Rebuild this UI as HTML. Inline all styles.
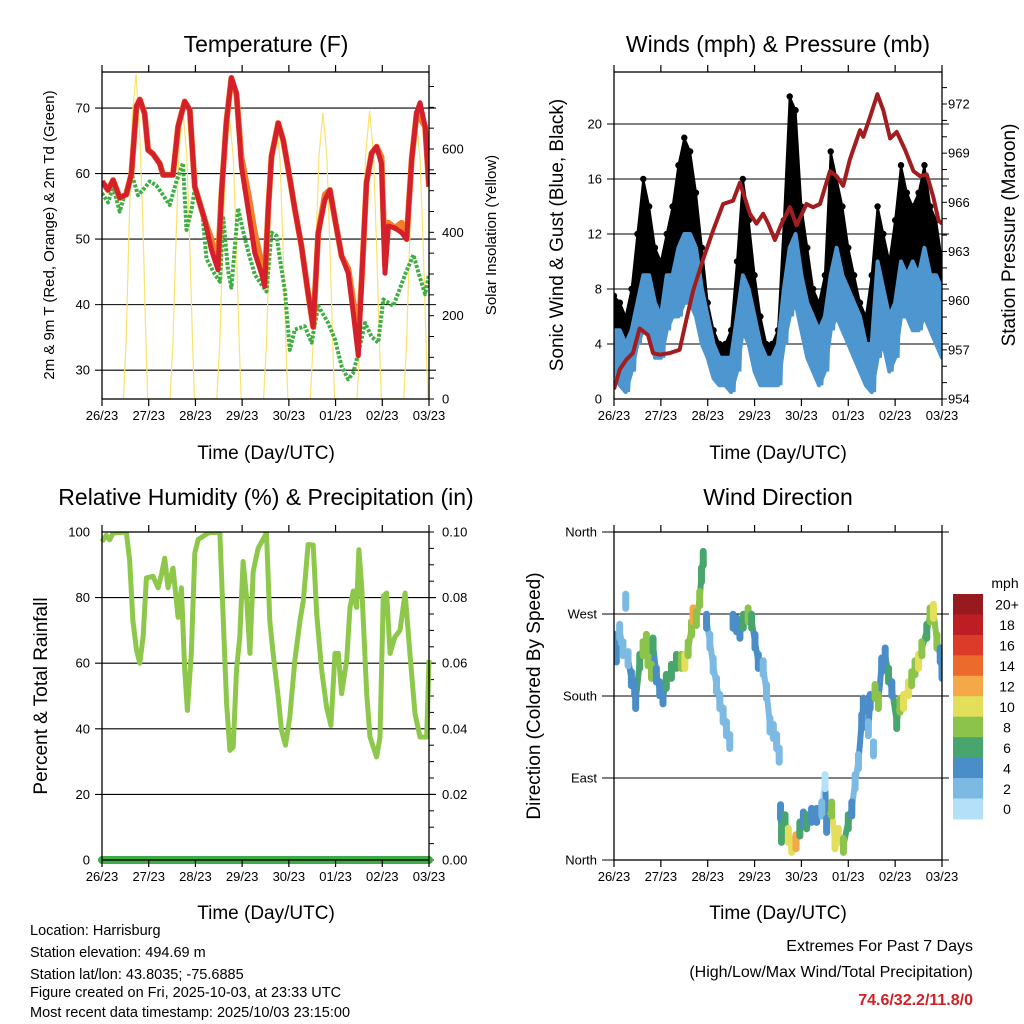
<!DOCTYPE html>
<html><head><meta charset="utf-8"><style>
html,body{margin:0;padding:0;background:#fff}
svg{display:block;font-family:"Liberation Sans",Arial,sans-serif}
</style></head><body>
<svg id="s" width="1024" height="1024" viewBox="0 0 1024 1024" xmlns="http://www.w3.org/2000/svg">
<defs>
<clipPath id="c1"><rect x="102" y="72" width="327" height="327"/></clipPath>
<clipPath id="c2"><rect x="614" y="72" width="328" height="327"/></clipPath>
<clipPath id="c3"><rect x="95" y="532" width="342" height="336"/></clipPath>
<clipPath id="c4"><rect x="614" y="532" width="328" height="328"/></clipPath>
</defs>
<text x="266" y="52" font-size="23" text-anchor="middle">Temperature (F)</text>
<text x="778" y="52" font-size="23" text-anchor="middle">Winds (mph) &amp; Pressure (mb)</text>
<text x="266" y="505" font-size="23" text-anchor="middle">Relative Humidity (%) &amp; Precipitation (in)</text>
<text x="778" y="505" font-size="23" text-anchor="middle">Wind Direction</text>
<text x="266" y="459" font-size="19" text-anchor="middle">Time (Day/UTC)</text>
<text x="778" y="459" font-size="19" text-anchor="middle">Time (Day/UTC)</text>
<text x="266" y="919" font-size="19" text-anchor="middle">Time (Day/UTC)</text>
<text x="778" y="919" font-size="19" text-anchor="middle">Time (Day/UTC)</text>
<text transform="translate(54,235) rotate(-90)" font-size="15" text-anchor="middle">2m &amp; 9m T (Red, Orange) &amp; 2m Td (Green)</text>
<text transform="translate(496,235) rotate(-90)" font-size="15" text-anchor="middle">Solar Insolation (Yellow)</text>
<text transform="translate(563,235) rotate(-90)" font-size="19" text-anchor="middle">Sonic Wind &amp; Gust (Blue, Black)</text>
<text transform="translate(1015,235) rotate(-90)" font-size="19" text-anchor="middle">Station Pressure (Maroon)</text>
<text transform="translate(47,696) rotate(-90)" font-size="19" text-anchor="middle">Percent &amp; Total Rainfall</text>
<text transform="translate(540,696) rotate(-90)" font-size="19" text-anchor="middle">Direction (Colored By Speed)</text>
<g font-size="14.5">
<text x="30" y="935">Location: Harrisburg</text>
<text x="30" y="957">Station elevation: 494.69 m</text>
<text x="30" y="979">Station lat/lon: 43.8035; -75.6885</text>
<text x="30" y="997">Figure created on Fri, 2025-10-03, at 23:33 UTC</text>
<text x="30" y="1017">Most recent data timestamp: 2025/10/03 23:15:00</text>
</g>
<g font-size="16" text-anchor="end">
<text x="973" y="951">Extremes For Past 7 Days</text>
<text x="973" y="977">(High/Low/Max Wind/Total Precipitation)</text>
<text x="973" y="1005" fill="#d02026" font-weight="bold">74.6/32.2/11.8/0</text>
</g>
<g id="g"></g>
</svg>
<script>
// ---- Temperature data ----
const tempHours=[0,3.1,5.7,9.1,12.5,15.1,17.7,19.4,21.9,23.7,26.2,29.7,31.4,36.5,39.1,42.5,45.1,47.7,52.8,56.2,59.6,61.4,63.9,66.5,69.1,71.6,75.1,78.5,81.9,83.6,85.4,87.1,90.5,93.1,95.7,99.1,102.5,105.9,108.5,111.1,114.5,117.1,119.7,123.1,126.5,129.1,131.7,133.4,135.9,138.5,141.1,143.6,145.4,147.1,150.5,153.9,156.5,159.1,161.7,163.4,166.0,168];
const temp2m=[58.8,57.5,59,56.3,56.8,60,70.3,71.3,69.2,63.6,63,61.5,59.8,59.8,67.2,71,69.7,58,52.9,48.4,45.3,57,67.9,74.6,72.3,61.1,54.5,47.9,44.8,42.8,54.5,62.6,67.7,65.1,60.6,54.5,48.9,41.7,36.6,50.9,56,57.5,53,47.4,44.8,38.7,32.2,43.8,58.6,63.1,64.1,61.5,44.8,52,51.7,51,50,62.2,69.3,70.8,67.2,58];
const temp9m=[58.8,57.5,59,56.3,56.8,60,70.3,71.3,69.2,63.6,63,61.5,59.8,59.8,67.2,71,69.7,58,52.9,50.0,46.5,57,67.9,74.6,72.0,62.5,57.0,51.0,46.5,43.5,54.5,62.6,67.7,65.1,60.6,54.5,48.9,41.7,36.6,50.9,56.8,57.5,53,47.4,45.5,40.5,35.5,43.8,58.6,63.1,64.1,62.5,46,52.5,51.7,52.5,50,62.2,69.3,68.5,67.2,58];
const dewHours=[0,3.1,5.7,9.1,12.5,15.1,18.5,21.9,24.5,27.9,31.4,34.8,38.2,41.6,43.4,46.0,47.7,51.1,53.7,58.0,60.6,62.3,64.8,66.5,69.9,72.5,75.1,78.5,81.9,84.5,87.1,89.7,91.4,94.0,96.5,99.1,104.2,107.7,111.1,116.2,119.7,123.1,126.5,129.1,131.7,135.1,138.5,141.9,144.5,147.1,149.7,155.7,160.0,163.4,166.0,168];
const dewpoint=[57,55.6,58,54.2,57.6,60.1,56.7,57.8,58.8,58.2,56.7,55.2,58.8,61.6,51.4,54.5,57.6,55.2,47,44.6,43.5,53.2,45.1,42.6,54.7,51.2,48.1,44.6,43.1,42,51,50.5,47,42,33.1,36.2,36.7,34.2,39.8,37.2,34.7,30.6,28.6,29.6,32.6,37.2,35.1,34.2,40.8,40.3,39.8,44.6,47.6,44.1,41.6,44.6];
const solarHours=[11,12.5,14,15.5,17.5,19.5,21,22.5,23.5, 35,36.5,38,39.5,41.5,43.5,45,46.5,47.5, 59,60.5,62,63.5,65.5,67.5,69,70.5,71.5, 83,84.5,86,87.5,89.5,91.5,93,94.5,95.5, 107,108.5,110,111.5,113.5,115.5,117,118.5,119.5, 131,132.5,134,135.5,137.5,139.5,141,142.5,143.5, 155,156.5,158,159.5,161.5,163.5,165,166.5,167.5];
const solar=[0,150,430,680,780,620,420,150,0, 0,140,380,590,694,590,380,140,0, 0,135,372,575,677,575,372,135,0, 0,134,368,570,670,570,368,134,0, 0,137,378,584,687,584,378,137,0, 0,138,380,588,692,588,380,138,0, 0,134,368,570,670,570,368,134,0];
const tempTicks=[30,40,50,60,70];
const solarTicks=[0,200,400,600];
const dayLabels=["26/23","27/23","28/23","29/23","30/23","01/23","02/23","03/23"];
// ---- Wind data (3-hourly) ----
const windLow=[2,1,0.5,2,4,5,5,3,3,5,6,6,7,7,6,4,3,1.5,1,1,0.5,2,5,4,2,1,1,1,1,4,6,7,5,3,2,1,2,5,6,5,4,3,2,1,0.5,3,4,2,3,6,6,5,5,6,5,4,3];
const windHigh=[5,5,4,5,7,9,9,7,6,9,9,11,12,12,11,8,6,4,3,3,3,6,9,8,6,4,3,3,4,8,11,12,9,7,6,5,6,9,11,9,8,7,6,4,4,10,8,6,7,10,9,10,9,11,9,9,8];
const gustLow=[4,3,2.5,3,5,7,8,6,6,8,8,9,9,10,8,6,4,3,2.5,2.5,3,5,8,8,4,3,2.5,2.5,3,7,10,11,8,5,4,3,5,8,10,8,6,5,4,3,4,6,6,4,8,10,9,9,9,10,8,7,5];
const gustHigh=[7.5,7,6,8,12,16,14,11,10,12,14,17,19,18,15,11,7,5,4,4,5,10,16,13,9,6,4,4,5,13,22,21,14,11,8,7,9,18,16,14,11,9,7,6,9,14,12,10,13,17,15,14,15,17,14,13,10];
const presHours=[0,2.9,6.3,9.7,13.1,17.4,20,23.4,28.5,33.6,37,40.5,45.6,50.8,55.9,61,64.5,69.6,73,76.4,79,82.4,85.8,90.1,93.5,98.6,102,105.5,110.6,114,117.4,120.8,126,127.7,131.1,134.9,138,141.4,144.8,149.1,153.4,156.8,160.2,163.6,166.2,168];
const pressure=[954.6,955.8,956.4,956.8,958.3,957.9,956.8,956.7,956.8,957,958.8,960.6,962.5,964.3,965.9,966.1,967.2,965.3,964.7,965.3,964.7,963.7,964.7,965.7,964.6,965.9,965.7,965.9,967.9,967.6,967,968.6,970.4,970,971.2,972.6,971.6,969.9,970.3,969.2,967.9,967.6,967.7,966.3,964.9,964.7];
const windTicks=[0,4,8,12,16,20];
const presTicks=[954,957,960,963,966,969,972];
// ---- RH data ----
const rhHours=[0,2.2,3.9,5.7,12.5,14.2,15.9,17.7,19.4,21.1,22.8,26.2,28.8,30.5,32.2,33.9,36.5,39.1,40.8,42.5,43.9,45.9,47.7,49.4,54.5,60.5,62.3,64.0,65.7,67.4,69.1,70.8,72.5,74.3,76.0,77.7,80.2,84.5,86.2,87.9,90.5,92.2,94.3,96.5,99.1,101.7,103.4,105.9,108.5,110.3,112.8,115.4,117.6,119.7,121.4,123.1,125.7,127.4,129.1,130.8,132.0,133.4,136.0,137.7,141.1,142.8,144.5,146.2,148.0,150.5,153.1,155.7,158.2,160.8,163.4,166.8,168];
const rh=[97,99,97.6,99.7,100,91.5,73,64,60,68,86,86.5,83,87,92,83,89,74,83,58,45.6,63,93.6,97.7,99.7,100,73,47.7,33.4,34.4,58,68,91,80,63,88,95,99.7,73,63,49.7,39.6,35,43.6,61,73,79,96.2,96,75,58,46.6,41,63,63,50.7,61,77,82,77,94.6,83.4,50.7,37.5,31.4,37.5,80.4,81.4,63,68,70,81.4,63,44.6,37.5,37.5,61];
const precipHours=[0,168];
const precip=[0,0];
const rhTicks=[0,20,40,60,80,100];
const precipTicks=["0.00","0.02","0.04","0.06","0.08","0.10"];
// ---- Wind direction data ----
const dirHours=[0.3,1.2,2.9,4.6,6.0,7.2,8.9,10.6,11.1,13.2,14.9,16.6,17.4,19.2,20.0,21.7,23.4,25.1,26.8,29.4,32.0,34.5,36.3,38.0,39.7,40.5,42.2,43.9,44.8,45.7,47.4,49.1,50.8,52.5,54.2,55.9,57.6,59.3,61.0,62.8,64.5,66.2,68.7,70.5,72.2,73.9,76.4,78.1,79.9,81.6,83.3,84.6,85.3,85.8,87.6,89.3,91.0,93.2,95.2,97.0,98.7,101.2,103.8,106.4,108.1,108.9,111.5,113.2,114.9,117.5,120.0,121.8,123.5,125.2,126.9,127.7,130.3,131.2,132.9,133.7,135.4,137.1,138.9,140.6,142.3,144.8,146.5,148.3,150.8,152.5,154.2,156.0,157.7,160.2,161.9,163.6,165.4,167.1,168];
const dirDeg=[240,225,251,232,284,221,199,188,174,218,232,240,221,207,236,203,188,179,196,207,218,218,218,232,254,269,265,287,313,331,262,240,214,192,174,159,144,130,262,258,251,262,269,262,240,218,211,185,148,141,130,115,53,27,42,27,16,20,34,45,42,49,49,56,86,38,56,20,27,16,42,56,86,108,152,170,144,174,122,185,174,214,225,203,188,152,170,174,188,199,211,218,232,251,269,273,240,225,207];
const dirSpeed=[4,4,2,2,2,2,4,4,4,6,8,8,8,8,6,4,4,4,6,6,6,8,10,8,8,12,8,8,6,6,4,2,2,2,2,2,2,2,4,4,4,6,8,6,4,4,2,2,2,2,2,2,4,6,6,10,10,12,6,4,6,4,4,2,0,4,8,10,10,8,6,4,2,2,4,4,2,4,2,8,8,4,4,6,4,6,8,10,10,8,8,10,8,6,8,10,8,4,4];
const dirTickLabels=["North","East","South","West","North"];
const dirTickDeg=[0,90,180,270,360];
const speedLabels=["0","2","4","6","8","10","12","14","16","18","20+"];
const speedColors=["#b5e1f8","#7cb9e3","#4a8dc7","#48a56e","#8cc34b","#e4df5b","#f5a848","#ed6a2d","#dc3b2a","#bd1e24","#961a1e"];

const NS="http://www.w3.org/2000/svg";
const G=document.getElementById('g');
function el(tag,attrs,parent){const e=document.createElementNS(NS,tag);for(const k in attrs)e.setAttribute(k,attrs[k]);(parent||G).appendChild(e);return e;}
function xScale(x0,x1){return h=>x0+h/168*(x1-x0);}
function linScale(v0,v1,p0,p1){return v=>p0+(v-v0)/(v1-v0)*(p1-p0);}
function pathOf(xs,ys,X,Y){return xs.map((h,i)=>(i?'L':'M')+X(h).toFixed(1)+','+Y(ys[i]).toFixed(1)).join('');}

function frame(x0,x1,y0,y1,name){
  const r=el('rect',{x:x0,y:y0,width:x1-x0,height:y1-y0,fill:'none',stroke:'#000','stroke-width':1.3});
  
  
  const X=xScale(x0,x1);
  for(let d=0;d<=7;d++){
    const x=X(d*24);
    const t=el('path',{d:`M${x},${y1}v7M${x},${y0}v-7`,stroke:'#000','stroke-width':1.2});
    
    
    const lb=el('text',{x:x,y:y1+21,'font-size':13,'text-anchor':'middle'});
    lb.textContent=dayLabels[d];
    
    
  }
}
function grid(x0,x1,y,name){
  const l=el('line',{x1:x0-7,x2:x1+7,y1:y,y2:y,stroke:'#000','stroke-width':1.1});
  
  
}
function label(x,y,txt,anchor,name){
  const t=el('text',{x:x,y:y+4.5,'font-size':13,'text-anchor':anchor});
  t.textContent=txt;
  
  
}
function rightTicks(x,y0,y1,n,ymin){
  for(let i=0;i<=n;i++){const y=y1-(y1-y0)*i/n;
    if(y<ymin)continue;
    const t=el('line',{x1:x,x2:x+5,y1:y,y2:y,stroke:'#000','stroke-width':1});
    
    }
}

// ===== Panel 1: Temperature =====
(function(){
  const x0=102,x1=429,y0=72,y1=399;
  const X=xScale(x0,x1);
  const Y=linScale(25.6,75.5,399,72);
  const S=linScale(0,600,399,149);
  tempTicks.forEach(v=>{grid(x0,x1,Y(v),'temp-gridline');label(x0-12,Y(v),String(v),'end','temp-y-tick-label');});
  solarTicks.forEach(v=>{label(x1+13,S(v),String(v),'start','solar-y-tick-label');});
  rightTicks(x1,S(750),399,15,72);
  const g=el('g',{'clip-path':'url(#c1)'});
  
  
  const sl=el('path',{d:pathOf(solarHours,solar,X,S),fill:'none',stroke:'#fbe36a','stroke-width':1.2},g);
  
  
  const dw=el('path',{d:pathOf(dewHours,dewpoint,X,Y),fill:'none',stroke:'#3fae43','stroke-width':4,'stroke-dasharray':'3 1.6','stroke-linejoin':'round'},g);
  
  
  const o=el('path',{d:pathOf(tempHours,temp9m,X,Y),fill:'none',stroke:'#f47d2a','stroke-width':6,'stroke-linejoin':'round'},g);
  
  
  const r=el('path',{d:pathOf(tempHours,temp2m,X,Y),fill:'none',stroke:'#d3202a','stroke-width':5,'stroke-linejoin':'round'},g);
  
  
  frame(x0,x1,y0,y1,'temp');
})();

// ===== Panel 2: Winds & Pressure =====
(function(){
  const x0=614,x1=942,y0=72,y1=399;
  const X=xScale(x0,x1);
  const Y=linScale(0,1,399,385.25);
  const P=linScale(954,972,399,104);
  windTicks.forEach(v=>{if(v>0)grid(x0,x1,Y(v),'wind-gridline');label(x0-12,Y(v),String(v),'end','wind-y-tick-label');});
  presTicks.forEach(v=>{label(x1+6,P(v),String(v),'start','pressure-y-tick-label');});
  rightTicks(x1,P(975),399,21,72);
  const g=el('g',{'clip-path':'url(#c2)'});
  
  
  const hrs=gustLow.map((_,i)=>i*3);
  let d='';
  hrs.forEach((h,i)=>{d+=(i?'L':'M')+X(h).toFixed(1)+','+Y(gustHigh[i]).toFixed(1);});
  for(let i=hrs.length-1;i>=0;i--)d+='L'+X(hrs[i]).toFixed(1)+','+Y(gustLow[i]).toFixed(1);
  const gb=el('path',{d:d+'Z',fill:'#000',stroke:'#000','stroke-width':2,'stroke-linejoin':'round'},g);
  
  
  hrs.forEach((h,i)=>{
    const c=el('circle',{cx:X(h),cy:Y(gustHigh[i]),r:3.2,fill:'#000'},g);
    
    
  });
  let zz='';
  hrs.forEach((h,i)=>{
    zz+=(i?'L':'M')+X(h).toFixed(1)+','+Y(windHigh[i]).toFixed(1);
    if(i<hrs.length-1)zz+='L'+X(h+1.5).toFixed(1)+','+Y(windLow[i]).toFixed(1);
  });
  let bd='';
  hrs.forEach((h,i)=>{bd+=(i?'L':'M')+X(h).toFixed(1)+','+Y(windHigh[i]).toFixed(1);});
  for(let i=hrs.length-1;i>=0;i--)bd+='L'+X(hrs[i]).toFixed(1)+','+Y(windLow[i]).toFixed(1);
  const wb=el('path',{d:bd+'Z',fill:'#4d96d0',stroke:'#4d96d0','stroke-width':4,'stroke-linejoin':'round'},g);
  
  
  const wl=el('path',{d:zz,fill:'none',stroke:'#4d96d0','stroke-width':3},g);
  
  
  const pl=el('path',{d:pathOf(presHours,pressure,X,P),fill:'none',stroke:'#a11d1f','stroke-width':4,'stroke-linejoin':'round'},g);
  
  
  frame(x0,x1,y0,y1,'wind');
})();

// ===== Panel 3: RH & Precip =====
(function(){
  const x0=102,x1=429,y0=532,y1=860;
  const X=xScale(x0,x1);
  const Y=linScale(0,100,860,532);
  rhTicks.forEach((v,i)=>{if(v>0&&v<100)grid(x0,x1,Y(v),'rh-gridline');label(x0-12,Y(v),String(v),'end','rh-y-tick-label');label(x1+13,Y(v),precipTicks[i],'start','precip-y-tick-label');});
  rightTicks(x1,532,860,20,532);
  const g=el('g',{'clip-path':'url(#c3)'});
  
  
  const rl=el('path',{d:pathOf(rhHours,rh,X,Y),fill:'none',stroke:'#8dc84b','stroke-width':5,'stroke-linejoin':'round'},g);
  
  
  const PY=linScale(0,0.1,860,532);
  const pr=el('path',{d:pathOf(precipHours,precip,X,PY),fill:'none',stroke:'#3fab47','stroke-width':8,'stroke-linecap':'round'},g);
  
  
  frame(x0,x1,y0,y1,'rh');
})();

// ===== Panel 4: Wind direction =====
(function(){
  const x0=614,x1=942,y0=532,y1=860;
  const X=xScale(x0,x1);
  const Y=linScale(0,360,860,532);
  dirTickDeg.forEach((v,i)=>{grid(x0-5,x1,Y(v),'dir-gridline');label(x0-17,Y(v),dirTickLabels[i],'end','dir-y-tick-label');});
  const g=el('g',{'clip-path':'url(#c4)'});
  
  
  const col=s=>speedColors[Math.min(10,Math.max(0,Math.round(s/2)))];
  for(let i=1;i<dirHours.length;i++){
    if(Math.abs(dirDeg[i]-dirDeg[i-1])<50){
      const s=el('line',{x1:X(dirHours[i-1]),y1:Y(dirDeg[i-1]),x2:X(dirHours[i]),y2:Y(dirDeg[i]),stroke:col(dirSpeed[i]),'stroke-width':6,'stroke-linecap':'round'},g);
      
      
    }
  }
  dirHours.forEach((h,i)=>{
    const x=X(h),y=Y(dirDeg[i]);
    const c=el('line',{x1:x,y1:y-7,x2:x,y2:y+7,stroke:col(dirSpeed[i]),'stroke-width':7,'stroke-linecap':'round'},g);
    
    
  });
  frame(x0,x1,y0,y1,'dir');
  const cb=el('g',{});
  
  
  const top=594,bh=20.45;
  for(let k=0;k<11;k++){
    const idx=10-k;
    const r=el('rect',{x:953,y:top+k*bh,width:30,height:bh+0.5,fill:speedColors[idx]},cb);
    
    
    const t=el('text',{x:1007,y:top+k*bh+bh/2+5.5,'font-size':14,'text-anchor':'middle'},cb);
    t.textContent=speedLabels[idx];
    
    
  }
  const m=el('text',{x:1005,y:588,'font-size':14,'text-anchor':'middle'},cb);
  m.textContent='mph';
  
  
})();
</script>
</body></html>
